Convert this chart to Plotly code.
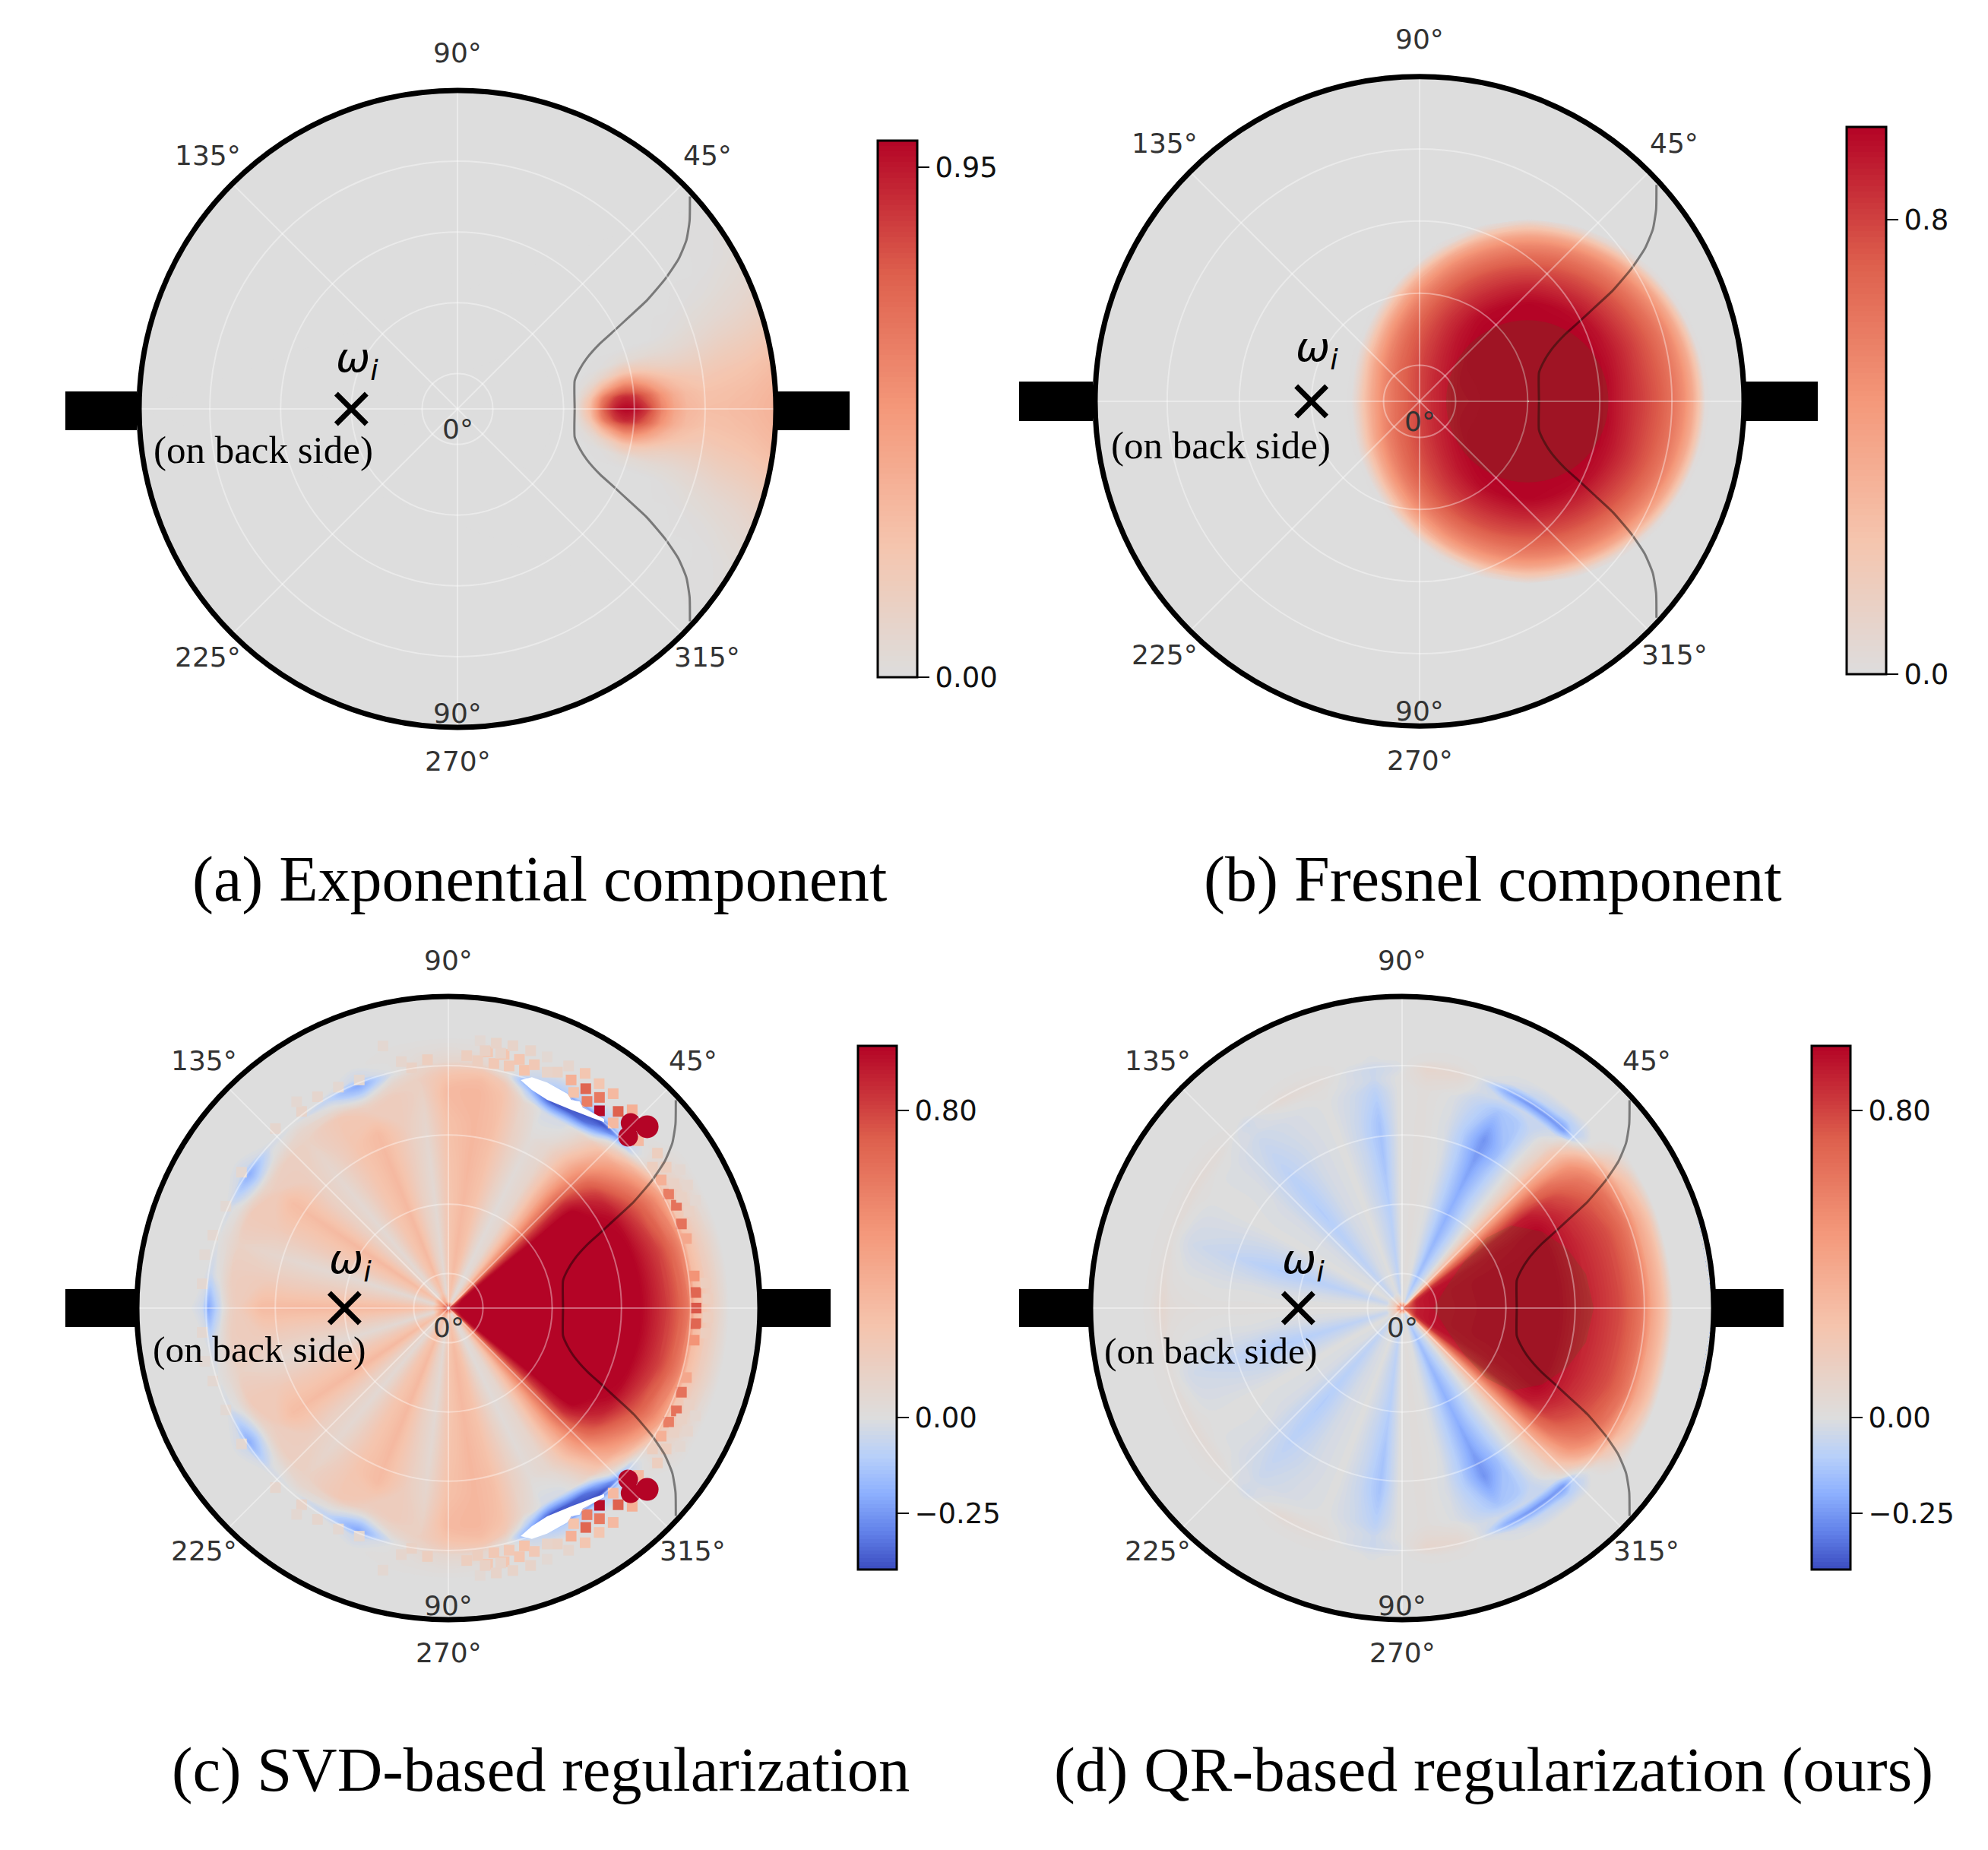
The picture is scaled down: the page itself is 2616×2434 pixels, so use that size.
import numpy as np
import plotly.graph_objects as go

W, H = 2616, 2434

# ---------- data ----------
A_R = [0.30, 0.36, 0.38, 0.42, 0.46, 0.50, 0.53, 0.56, 0.60, 0.64, 0.68, 0.72, 0.78, 0.85, 0.92, 1.00]
A_T = [0, 4, 8, 12, 16, 20, 25, 30, 40, 180]
A_Z = [
    [0, 0, 0, 0, 0, 0, 0, 0, 0, 0],
    [0, 0, 0, 0, 0, 0, 0, 0, 0, 0],
    [.06, .04, .01, 0, 0, 0, 0, 0, 0, 0],
    [.32, .26, .12, .03, 0, 0, 0, 0, 0, 0],
    [.74, .64, .33, .10, .01, 0, 0, 0, 0, 0],
    [.95, .85, .50, .18, .03, 0, 0, 0, 0, 0],
    [1.0, .90, .58, .24, .05, 0, 0, 0, 0, 0],
    [.98, .86, .55, .23, .05, 0, 0, 0, 0, 0],
    [.84, .72, .44, .19, .05, 0, 0, 0, 0, 0],
    [.60, .52, .33, .15, .05, 0, 0, 0, 0, 0],
    [.43, .38, .26, .13, .05, .01, 0, 0, 0, 0],
    [.33, .30, .23, .13, .06, .02, 0, 0, 0, 0],
    [.28, .26, .21, .14, .08, .04, .01, 0, 0, 0],
    [.29, .27, .23, .17, .11, .06, .02, 0, 0, 0],
    [.31, .29, .25, .19, .13, .08, .04, .01, 0, 0],
    [.35, .33, .29, .23, .16, .11, .06, .03, 0, 0],
]

# panel b is tabulated around the centre of its disc
B_D = [0.005, .2, .4, .47, .55, .65, .75, .82, .88, .93, .97, 1.0, 1.03]
B_T = [0, 15, 30, 45, 60, 75, 90, 105, 120, 135, 150, 165, 180]
B_Z = [
    [.97, .97, .97, .97, .97, .97, .97, .97, .97, .97, .97, .97, .97],
    [.97, .97, .97, .97, .97, .97, .97, .97, .97, .97, .97, .97, .97],
    [.96, .96, .97, .97, .98, .98, .98, .98, .98, .97, .96, .95, .94],
    [.93, .94, .95, .96, .97, .97, .98, .97, .97, .95, .93, .91, .90],
    [.87, .88, .90, .92, .94, .95, .96, .95, .94, .91, .88, .86, .85],
    [.80, .80, .82, .83, .85, .86, .87, .86, .85, .83, .80, .78, .76],
    [.72, .72, .73, .74, .75, .76, .76, .76, .75, .73, .71, .68, .65],
    [.63, .63, .64, .64, .65, .66, .66, .65, .64, .62, .60, .57, .54],
    [.52, .52, .53, .53, .54, .55, .55, .54, .52, .49, .46, .43, .40],
    [.38, .38, .38, .39, .40, .41, .42, .40, .37, .33, .29, .26, .24],
    [.20, .20, .20, .21, .22, .24, .26, .23, .18, .15, .12, .10, .09],
    [.02, .02, .02, .04, .07, .10, .14, .09, .04, .01, .01, .01, .01],
    [0, 0, 0, 0, 0, 0, 0, 0, 0, 0, 0, 0, 0],
]

C_R = [.005, .02, .05, .1, .2, .35, .5, .6, .7, .74, .77, .79, .83, .87, .90, 1.0]
C_T = [0, 15, 28, 34, 38, 42, 46, 50, 54, 58, 64, 70, 76, 82, 90, 97, 104, 112, 120, 130, 138, 146, 155, 163, 172, 180]
C_Z = [
    [.8] * 26,
    [.90, .90, .80, .70, .55, .45, .35, .25, .15, .10, .06, .10, .15, .20, .22, .25, .30, .35, .40, .40, .45, .50, .50, .50, .50, .50],
    [1, 1, .97, .90, .75, .50, .30, .20, .12, .06, .03, .10, .18, .24, .18, .05, .12, .24, .18, .05, .12, .24, .16, .05, .14, .24],
    [1, 1, 1, .98, .90, .70, .42, .25, .14, .06, .03, .12, .22, .28, .20, .05, .14, .28, .20, .05, .14, .28, .18, .05, .16, .28],
    [1, 1, 1, 1, .95, .78, .50, .30, .17, .07, .03, .13, .25, .30, .22, .05, .14, .30, .22, .05, .14, .30, .18, .05, .17, .30],
    [1, 1, 1, 1, .97, .82, .58, .36, .20, .08, .03, .13, .25, .30, .22, .05, .14, .30, .22, .05, .14, .30, .18, .05, .17, .30],
    [1, 1, 1, 1, .97, .85, .62, .40, .22, .09, .03, .14, .26, .31, .24, .06, .16, .30, .22, .06, .14, .29, .18, .06, .17, .30],
    [1, .99, .95, .88, .80, .68, .50, .33, .18, .08, .03, .13, .27, .31, .26, .08, .16, .29, .22, .08, .15, .28, .18, .08, .17, .29],
    [.82, .80, .70, .58, .48, .38, .27, .14, .03, -.03, -.03, .08, .25, .31, .30, .12, .16, .12, .20, .12, .14, .10, .18, .12, .15, .12],
    [.72, .68, .56, .42, .30, .16, .03, -.20, -.33, -.36, -.36, -.10, .20, .28, .25, .14, .08, -.10, .02, .08, .02, -.10, .03, .05, .02, -.08],
    [.62, .56, .42, .22, .05, -.10, -.25, -.39, -.39, -.39, -.39, -.25, .05, .20, .18, .10, -.02, -.22, -.08, 0, -.03, -.20, -.03, 0, -.05, -.22],
    [.30, .28, .20, .10, 0, -.05, -.08, -.10, -.10, -.10, -.10, -.05, .02, .08, .08, .05, 0, -.05, 0, 0, 0, -.05, 0, 0, 0, -.05],
    [.18, .16, .12, .06, .02, 0, 0, 0, 0, 0, 0, 0, 0, .02, .03, .02, .01, 0, 0, 0, 0, 0, 0, 0, 0, 0],
    [.08, .07, .04, .02, 0, 0, 0, 0, 0, 0, 0, 0, 0, 0, 0, 0, 0, 0, 0, 0, 0, 0, 0, 0, 0, 0],
    [0] * 26,
    [0] * 26,
]

D_R = [.005, .02, .05, .1, .2, .3, .4, .5, .6, .7, .74, .77, .80, .84, .87, 1.0]
D_T = [0, 20, 30, 36, 40, 44, 48, 52, 58, 64, 70, 76, 84, 91, 97, 103, 110, 120, 130, 140, 150, 163, 172, 180]
D_Z = [
    [.7] * 24,
    [.75, .70, .60, .40, .30, .20, .10, .05, -.02, -.05, 0, 0, .02, .05, .05, .08, .10, .15, .15, .18, .20, .20, .20, .20],
    [.90, .90, .85, .70, .55, .30, .10, -.02, -.06, -.10, -.05, 0, .01, 0, -.07, -.03, 0, -.02, -.06, -.01, 0, -.05, -.01, .01],
    [.93, .93, .92, .82, .62, .35, .10, -.02, -.08, -.14, -.07, 0, .02, 0, -.08, -.04, 0, -.02, -.07, -.01, 0, -.07, -.01, .01],
    [.95, .95, .93, .86, .66, .38, .12, -.02, -.10, -.17, -.08, -.01, .02, 0, -.09, -.05, 0, -.03, -.09, -.02, 0, -.09, -.02, .01],
    [.96, .96, .94, .88, .68, .40, .14, -.01, -.11, -.19, -.09, -.01, .02, 0, -.10, -.05, 0, -.03, -.10, -.02, 0, -.10, -.02, .01],
    [.97, .97, .95, .90, .70, .42, .15, 0, -.10, -.20, -.10, -.01, .02, 0, -.12, -.06, 0, -.03, -.11, -.02, 0, -.11, -.02, .01],
    [.97, .97, .96, .90, .72, .42, .15, 0, -.12, -.23, -.11, -.01, .02, 0, -.14, -.06, 0, -.03, -.10, -.02, 0, -.09, -.01, .01],
    [.88, .87, .85, .78, .65, .40, .15, 0, -.15, -.26, -.12, -.02, .02, 0, -.14, -.06, 0, -.03, -.08, -.01, 0, -.06, -.01, .01],
    [.78, .77, .72, .62, .50, .28, .08, -.03, -.12, -.14, -.07, -.01, .02, 0, -.09, -.04, 0, -.02, -.05, -.01, 0, -.04, 0, .02],
    [.70, .69, .64, .52, .36, .15, -.02, -.06, -.05, -.05, -.03, .03, .05, 0, -.05, -.02, .01, 0, -.03, 0, .01, -.01, .01, .03],
    [.62, .60, .52, .38, .20, -.03, -.25, -.25, -.25, -.20, -.03, .06, .08, -.02, -.05, -.02, .03, .05, -.04, .03, .04, .02, .04, .07],
    [.42, .40, .32, .18, .03, -.06, -.10, -.08, -.06, -.02, 0, .01, .01, 0, -.01, 0, .01, .01, 0, .01, .01, .01, .01, .02],
    [.25, .24, .16, .06, 0, 0, 0, 0, 0, 0, 0, 0, 0, 0, 0, 0, 0, 0, 0, 0, 0, 0, 0, 0],
    [0] * 24,
    [0] * 24,
]

# the grey curve, upper half (mirrored below)
CURVE_X = [.368, .368, .382, .406, .447, .497, .538, .595, .653, .694, .719, .729, .730]
CURVE_Y = [0, .088, .121, .159, .205, .250, .288, .341, .409, .470, .530, .591, .667]

# panel c: rim dots, upper half (x, y in radius units)
C_DOT_X = [.394, .439, .484, .402, .441, .445, .485, .529, .485, .545, .590, .529, .610, .671, .655, .699, .683, .707, .732, .724, .768, .744, .793,
           .748, .764, .789, .794, .795, .748, .772, .826, .833,
           .195, .228, .179, .146, .126, .094, .154, .207, .264, .244, .276, .317, .350, .317, .386, .102,
           -.067, -.118, -.151, -.210, .059, .118, .168,
           -.286, -.353, -.420, -.471, -.487, -.555, -.664, -.714, -.756, -.782, -.790]
C_DOT_Y = [.732, .753, .720, .692, .704, .663, .676, .688, .633, .631, .636, .594, .537, .497, .452, .452, .411, .366, .330, .399, .395, .444, .346,
           .270, .223, .103, .050, .000, .355, .310, .080, .030,
           .777, .798, .814, .785, .822, .794, .850, .842, .826, .763, .781, .806, .757, .757, .777, .858,
           .797, .771, .791, .841, .810, .826, .818,
           .732, .709, .678, .631, .662, .576, .436, .327, .234, .171, .078]
C_DOT_V = [.35, .22, .22, .25, .70, .60, .62, .30, .95, .72, .35, .30, .30, .15, .15, .15, .35, .60, .65, .12, .08, .06, .06,
           .65, .40, .50, .70, .75, .12, .12, .15, .15,
           .20, .22, .22, .20, .20, .15, .10, .10, .10, .25, .20, .05, .12, .10, .08, .05,
           .15, .12, .08, .06, .15, .12, .10,
           .06, .06, .08, .10, .06, .08, .06, .05, .06, .05, .06]
C_BLOB_X = [.585, .638, .577]
C_BLOB_Y = [.594, .582, .550]
C_BLOB_V = [1.0, 1.0, 1.0]

# panel c: unfilled sliver (upper half)
C_HOLE_X = [.232, .268, .317, .382, .394, .422, .431, .50, .50, .463, .398, .317, .268, .232]
C_HOLE_Y = [.732, .741, .724, .688, .668, .663, .644, .607, .597, .610, .635, .668, .70, .732]

# panel d: darker patch (upper half)
D_DARK_X = [.10, .15, .20, .27, .35, .45, .53, .59, .615]
D_DARK_Y = [0, .08, .15, .225, .265, .245, .19, .11, 0]

COOLWARM = [(0, (59, 76, 192)), (.125, (98, 130, 234)), (.25, (141, 176, 254)), (.375, (184, 208, 249)),
            (.5, (221, 221, 221)), (.625, (245, 196, 173)), (.75, (244, 152, 122)), (.875, (222, 96, 77)),
            (1, (180, 4, 38))]

CAPTIONS = ["(a) Exponential component", "(b) Fresnel component",
            "(c) SVD-based regularization", "(d) QR-based regularization (ours)"]
THETA_LABELS = ["90°", "45°", "135°", "225°", "315°", "90°", "270°", "0°"]

# ---------- layout (pixels) ----------
PANELS = [
    dict(cx=602, cy=538, R=419, barL=(86, 180), barR=(1022, 1118), barY=(515, 566),
         cb=(1155, 1207, 185, 891), rng=(0, 1.0), ticks=[0, .95], tt=["0.00", "0.95"], cap=(710, 1157), capsize=84,
         omega=(470, 474), back=(346, 592), backsize=51),
    dict(cx=1868, cy=528, R=427, barL=(1341, 1438), barR=(2294, 2392), barY=(502, 554),
         cb=(2430, 2482, 167, 887), rng=(0, .964), ticks=[0, .8], tt=["0.0", "0.8"], cap=(1964, 1157), capsize=84,
         omega=(1733, 460), back=(1606, 586), backsize=51),
    dict(cx=590, cy=1721, R=410, barL=(86, 180), barR=(1000, 1093), barY=(1696, 1746),
         cb=(1129, 1180, 1376, 2065), rng=(-.396, .968), ticks=[-.25, 0, .8], tt=["−0.25", "0.00", "0.80"], cap=(711, 2328), capsize=82.5,
         omega=(461, 1660), back=(341, 1775), backsize=49.5),
    dict(cx=1845, cy=1721, R=410, barL=(1341, 1434), barR=(2253, 2347), barY=(1696, 1746),
         cb=(2384, 2435, 1376, 2065), rng=(-.396, .968), ticks=[-.25, 0, .8], tt=["−0.25", "0.00", "0.80"], cap=(1965, 2328), capsize=83.5,
         omega=(1715, 1660), back=(1593, 1777), backsize=49.5),
]


def colorscale(lo, hi):
    out = []
    if lo < 0:
        z = -lo / (hi - lo)
        for p, c in COOLWARM:
            pos = p / .5 * z if p <= .5 else z + (p - .5) / .5 * (1 - z)
            out.append([pos, "rgb(%d,%d,%d)" % c])
    else:
        for p, c in COOLWARM:
            if p >= .5:
                out.append([(p - .5) / .5, "rgb(%d,%d,%d)" % c])
    return out


def mirror(t, z):
    t = np.asarray(t, float)
    z = np.asarray(z, float)
    tt = np.concatenate([-t[::-1][:-1], t])
    zz = np.concatenate([z[:, ::-1][:, :-1], z], axis=1)
    return tt, zz


fig = go.Figure()
annotations, shapes = [], []
layout = {}
TABLES = [(A_R, A_T, A_Z, 0, 0, 1), (B_D, B_T, B_Z, .335, 0, .545), (C_R, C_T, C_Z, 0, 0, 1), (D_R, D_T, D_Z, 0, 0, 1)]
GRID = "rgba(255,255,255,.38)"


def ptext(x, y, text, size, family, color="#000"):
    annotations.append(dict(x=x / W, y=1 - y / H, xref="paper", yref="paper", text=text, showarrow=False,
                            xanchor="center", yanchor="middle", font=dict(size=size, family=family, color=color)))


for i, (p, tab) in enumerate(zip(PANELS, TABLES)):
    n = "" if i == 0 else str(i + 1)
    cx, cy, R = p["cx"], p["cy"], p["R"]
    xa, ya = "x" + n, "y" + n
    dom_x = [(cx - R) / W, (cx + R) / W]
    dom_y = [1 - (cy + R) / H, 1 - (cy - R) / H]
    axis = dict(range=[-1, 1], visible=False, fixedrange=True)
    layout["xaxis" + n] = dict(axis, domain=dom_x, anchor=ya)
    layout["yaxis" + n] = dict(axis, domain=dom_y, anchor=xa)
    layout["polar" + n] = dict(
        domain=dict(x=dom_x, y=dom_y), bgcolor="rgba(0,0,0,0)",
        radialaxis=dict(range=[0, 90], tickvals=[10, 30, 50, 70], showticklabels=False, ticks="", showline=False,
                        gridcolor=GRID, gridwidth=2),
        angularaxis=dict(tickvals=[0, 45, 90, 135, 180, 225, 270, 315], showticklabels=False, ticks="",
                         gridcolor=GRID, gridwidth=2, linecolor="black", linewidth=7),
    )
    # grey disc behind the map
    shapes.append(dict(type="circle", xref=xa, yref=ya, x0=-1, x1=1, y0=-1, y1=1, layer="below",
                       fillcolor="rgb(221,221,221)", line=dict(width=0)))

    rr, tt0, zz0, ox, oy, sc = tab
    t, z = mirror(tt0, zz0)
    rr = np.asarray(rr, float)
    T, RR = np.meshgrid(np.radians(t), rr)
    gx = ox + sc * RR * np.cos(T)
    gy = oy + sc * RR * np.sin(T)
    lo, hi = p["rng"]
    cs = colorscale(lo, hi)
    cid = "carpet%d" % i
    hidden = dict(showgrid=False, showline=False, startline=False, endline=False, showticklabels="none",
                  minorgridcount=0, smoothing=0)
    # carpet: a runs along theta, b along radius
    fig.add_trace(go.Carpet(a=list(t), b=list(rr), x=gx.tolist(), y=gy.tolist(), carpet=cid, xaxis=xa, yaxis=ya,
                            aaxis=hidden, baxis=hidden))
    cb = p["cb"]
    fig.add_trace(go.Contourcarpet(
        a=list(t), b=list(rr), z=z.tolist(), carpet=cid, xaxis=xa, yaxis=ya, autocontour=False,
        contours=dict(start=lo, end=hi, size=.01, coloring="fill", showlines=False),
        line=dict(width=0), colorscale=cs, zmin=lo, zmax=hi,
        colorbar=dict(x=cb[0] / W, xanchor="left", xpad=0, y=1 - cb[3] / H, yanchor="bottom", ypad=0,
                      lenmode="pixels", len=cb[3] - cb[2], thicknessmode="pixels", thickness=cb[1] - cb[0],
                      outlinecolor="black", outlinewidth=3, tickmode="array", tickvals=p["ticks"], ticktext=p["tt"],
                      ticks="outside", ticklen=15, tickwidth=2, tickcolor="black",
                      tickfont=dict(size=37, family="DejaVu Sans", color="#111")),
    ))

    if i == 2:
        for sign in (1, -1):
            fig.add_trace(go.Scatter(x=C_DOT_X, y=[sign * v for v in C_DOT_Y], mode="markers", xaxis=xa, yaxis=ya,
                                     marker=dict(symbol="square", size=14, color=C_DOT_V, colorscale=cs, cmin=lo, cmax=hi,
                                                 opacity=1, line=dict(width=0)), hoverinfo="skip"))
            fig.add_trace(go.Scatter(x=C_BLOB_X, y=[sign * v for v in C_BLOB_Y], mode="markers", xaxis=xa, yaxis=ya,
                                     marker=dict(symbol="circle", size=[26, 30, 26], color=C_BLOB_V, colorscale=cs, cmin=lo,
                                                 cmax=hi, opacity=1, line=dict(width=0)), hoverinfo="skip"))
            fig.add_trace(go.Scatter(x=C_HOLE_X, y=[sign * v for v in C_HOLE_Y], mode="lines", fill="toself", xaxis=xa, yaxis=ya,
                                     fillcolor="white", line=dict(width=0), hoverinfo="skip"))

    # darker patch of panels b and d
    if i == 1:
        shapes.append(dict(type="circle", xref=xa, yref=ya, x0=.082, x1=.582, y0=-.25, y1=.25, layer="above",
                           fillcolor="rgba(60,100,30,.17)", line=dict(width=0)))
    if i == 3:
        px_ = D_DARK_X + D_DARK_X[::-1][1:-1]
        py_ = D_DARK_Y + [-v for v in D_DARK_Y[::-1][1:-1]]
        fig.add_trace(go.Scatter(x=px_, y=py_, mode="lines", fill="toself", xaxis=xa, yaxis=ya,
                                 fillcolor="rgba(60,100,30,.17)", line=dict(width=0), hoverinfo="skip"))

    # grey curve
    top = list(zip(CURVE_X, CURVE_Y))
    path = [(x, -y) for x, y in top[::-1]][:-1] + top
    fig.add_trace(go.Scatter(x=[q[0] for q in path], y=[q[1] for q in path], mode="lines", xaxis=xa, yaxis=ya,
                             line=dict(color="rgba(0,0,0,.45)", width=3, shape="spline", smoothing=.5), hoverinfo="skip"))
    # incident direction, drawn on the polar axes
    fig.add_trace(go.Scatterpolar(r=[30], theta=[180], mode="markers", subplot="polar" + n, hoverinfo="skip",
                                  marker=dict(symbol="x-thin", size=40, line=dict(width=7, color="black"))))

    # black bars
    for bar in (p["barL"], p["barR"]):
        shapes.append(dict(type="rect", xref="paper", yref="paper", x0=bar[0] / W, x1=bar[1] / W,
                           y0=1 - p["barY"][1] / H, y1=1 - p["barY"][0] / H, fillcolor="black", line=dict(width=0),
                           layer="above"))

    # labels
    spots = [(0, 1.117), (.785, .795), (-.785, .795), (-.785, -.78), (.785, -.78), (0, -.955), (0, -1.107), (0, -.063)]
    for lab, (ux, uy) in zip(THETA_LABELS, spots):
        ptext(cx + ux * R, cy - uy * R, lab, 36, "DejaVu Sans", "#333")
    ptext(p["omega"][0], p["omega"][1], "<i>ω<sub>i</sub></i>", 54, "DejaVu Sans")
    ptext(p["back"][0], p["back"][1], "(on back side)", p["backsize"], "Liberation Serif")
    ptext(p["cap"][0], p["cap"][1], CAPTIONS[i], p["capsize"], "Liberation Serif")

fig.update_layout(width=W, height=H, margin=dict(l=0, r=0, t=0, b=0, pad=0), paper_bgcolor="white",
                  plot_bgcolor="rgba(0,0,0,0)", showlegend=False, hovermode=False,
                  annotations=annotations, shapes=shapes, **layout)
fig.write_html("out.html", config={"displayModeBar": False}, post_script="document.body.style.margin='0px';")
